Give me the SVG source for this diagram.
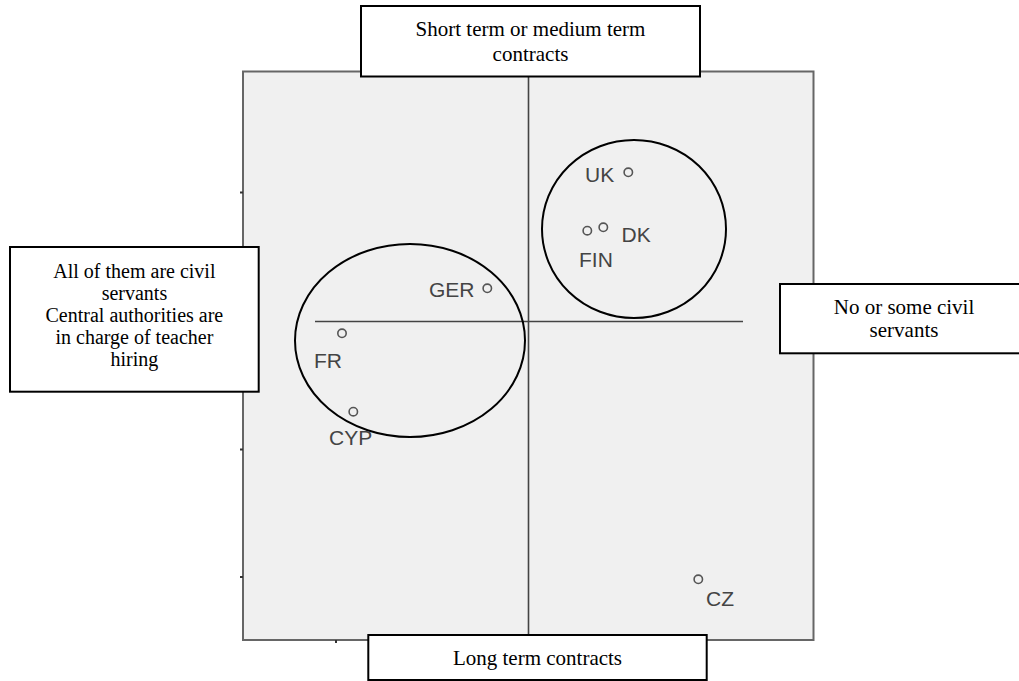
<svg xmlns="http://www.w3.org/2000/svg" width="1019" height="681" viewBox="0 0 1019 681">
  <style>
    .panel { fill: #f0f0f0; stroke: #666; stroke-width: 2; }
    .axis { stroke: #444; stroke-width: 1.6; fill: none; }
    .tick { stroke: #333; stroke-width: 2; }
    .group { fill: none; stroke: #000; stroke-width: 2; }
    .pt { fill: none; stroke: #555; stroke-width: 1.6; }
    .lbl { font-family: "Liberation Sans", Arial, sans-serif; font-size: 21px; fill: #444; }
    .box { fill: #fff; stroke: #000; stroke-width: 2; }
    .note { font-family: "Liberation Serif", "Times New Roman", serif; font-size: 21px; fill: #000; text-anchor: middle; }
    .tight { font-size: 20px; }
  </style>

  <!-- plot area -->
  <g id="plot">
    <rect class="panel" x="243" y="71.5" width="570.5" height="568.5"/>
    <line class="tick" x1="240" y1="192.5" x2="243" y2="192.5"/>
    <line class="tick" x1="240" y1="449.5" x2="243" y2="449.5"/>
    <line class="tick" x1="240" y1="577" x2="243" y2="577"/>
    <line class="tick" x1="336" y1="640" x2="336" y2="643"/>
  </g>

  <!-- quadrant axes -->
  <g id="connectors">
    <line class="axis" x1="528.5" y1="71.5" x2="528.5" y2="640"/>
    <line class="axis" x1="315" y1="321.5" x2="743" y2="321.5"/>
  </g>

  <!-- cluster outlines -->
  <g id="cluster-north">
    <ellipse class="group" cx="634" cy="229" rx="92" ry="89"/>
  </g>
  <g id="cluster-west">
    <ellipse class="group" cx="410" cy="340.5" rx="115" ry="96.5"/>
  </g>

  <!-- country points -->
  <g id="uk">
    <circle class="pt" cx="628.3" cy="172.3" r="4.2"/>
    <text class="lbl" x="585" y="181.5">UK</text>
  </g>
  <g id="fin">
    <circle class="pt" cx="587.3" cy="230.7" r="4.2"/>
    <text class="lbl" x="579" y="267.3">FIN</text>
  </g>
  <g id="dk">
    <circle class="pt" cx="603.3" cy="227.3" r="4.2"/>
    <text class="lbl" x="621.5" y="241.7">DK</text>
  </g>
  <g id="ger">
    <circle class="pt" cx="487.3" cy="288.3" r="4.2"/>
    <text class="lbl" x="429" y="297.3">GER</text>
  </g>
  <g id="fr">
    <circle class="pt" cx="342" cy="333.3" r="4.2"/>
    <text class="lbl" x="314" y="367.7">FR</text>
  </g>
  <g id="cyp">
    <circle class="pt" cx="353.3" cy="411.7" r="4.2"/>
    <text class="lbl" x="329" y="445">CYP</text>
  </g>
  <g id="cz">
    <circle class="pt" cx="698.3" cy="579.3" r="4.2"/>
    <text class="lbl" x="706" y="605.7">CZ</text>
  </g>

  <!-- axis pole descriptions -->
  <g id="pole-top">
    <rect class="box" x="361" y="6" width="339" height="70.5"/>
    <text class="note" x="530.5" y="35.7">Short term or medium term</text>
    <text class="note" x="530.5" y="61">contracts</text>
  </g>
  <g id="pole-bottom">
    <rect class="box" x="368.3" y="635" width="338.4" height="45"/>
    <text class="note" x="537.5" y="665">Long term contracts</text>
  </g>
  <g id="pole-left">
    <rect class="box" x="10" y="247" width="248.7" height="144.7"/>
    <text class="note tight" x="134.4" y="277.7">All of them are civil</text>
    <text class="note tight" x="134.4" y="300">servants</text>
    <text class="note tight" x="134.4" y="322">Central authorities are</text>
    <text class="note tight" x="134.4" y="344">in charge of teacher</text>
    <text class="note tight" x="134.4" y="366">hiring</text>
  </g>
  <g id="pole-right">
    <rect class="box" x="780" y="284" width="248" height="69.3"/>
    <text class="note" x="904" y="314.3">No or some civil</text>
    <text class="note" x="904" y="337.3">servants</text>
  </g>
</svg>
